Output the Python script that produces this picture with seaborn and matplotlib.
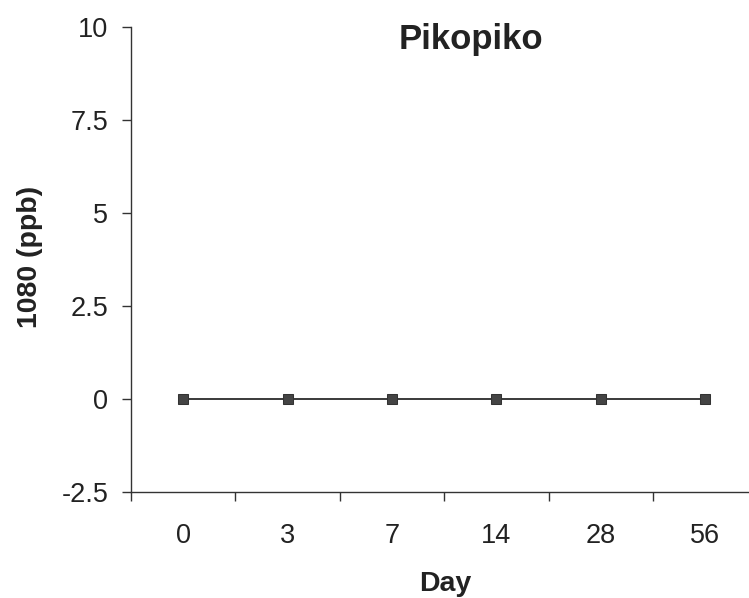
"""Pikopiko 1080 residue over time."""

import matplotlib

matplotlib.use("Agg")
import matplotlib.pyplot as plt
import numpy as np
import pandas as pd
import seaborn as sns

days = ["0", "3", "7", "14", "28", "56"]
conc_ppb = [0, 0, 0, 0, 0, 0]
y_ticks = [-2.5, 0, 2.5, 5, 7.5, 10]
y_tick_labels = ["-2.5", "0", "2.5", "5", "7.5", "10"]

sns.set_style("white")
plt.rcParams["font.family"] = ["Liberation Sans", "DejaVu Sans"]

df = pd.DataFrame({"Day": days, "conc": conc_ppb})

fig = plt.figure(figsize=(7.49, 5.98), dpi=100)
# axis runs past the right edge like the scanned original
ax = fig.add_axes([0.175, 0.177, 0.836, 0.778])

sns.lineplot(
    data=df, x="Day", y="conc", ax=ax, sort=False,
    color="#3a3a3a", linewidth=1.4, marker="s", markersize=7,
    markerfacecolor="#444444", markeredgecolor="#333333",
)

ax.set_xlim(-0.5, len(days) - 0.5)
ax.set_ylim(-2.5, 10)
ax.set_yticks(y_ticks)
ax.set_yticklabels(y_tick_labels)
ax.set_xticks(np.arange(len(days)))
ax.set_xticklabels(days)
ax.set_xticks(np.arange(len(days)) - 0.5, minor=True)

sns.despine(ax=ax, top=True, right=True)
for s in ("left", "bottom"):
    ax.spines[s].set_color("#333333")
    ax.spines[s].set_linewidth(1.0)

ax.tick_params(axis="y", which="major", direction="out", length=6.5, width=1,
               color="#333333", labelsize=19.5, pad=10, left=True,
               labelcolor="#222222")
ax.tick_params(axis="x", which="major", length=0, labelsize=19.5, pad=22,
               labelcolor="#222222")
ax.tick_params(axis="x", which="minor", direction="out", length=6.5, width=1,
               color="#333333", bottom=True)

ax.set_xlabel("Day", fontsize=20.5, fontweight="bold", color="#222222")
ax.xaxis.set_label_coords(0.501, -0.169)
ax.set_ylabel("1080 (ppb)", fontsize=20.5, fontweight="bold", color="#222222")
ax.yaxis.set_label_coords(-0.141, 0.505)

ax.text(0.542, 0.974, "Pikopiko", transform=ax.transAxes, ha="center",
        va="center", fontsize=25, fontweight="bold", color="#222222")

fig.savefig("out.png", dpi=100)
